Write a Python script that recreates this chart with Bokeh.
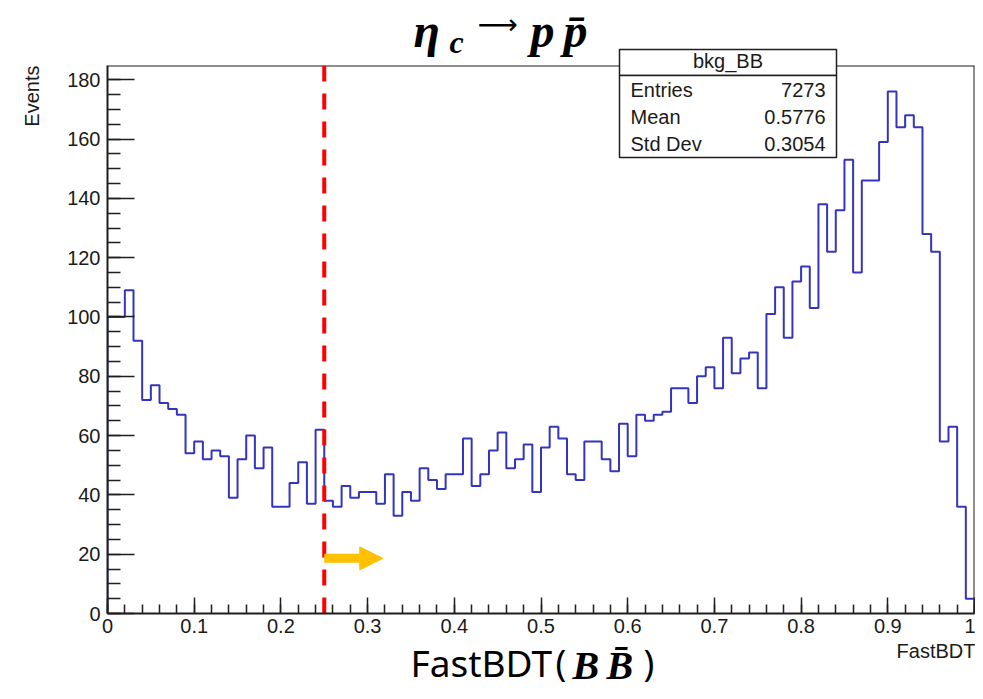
import numpy as np
from bokeh.plotting import figure
from bokeh.models import Range1d, FixedTicker, Span, Arrow, NormalHead
from bokeh.core.properties import value
from bokeh.embed import file_html
from bokeh.resources import INLINE

# ---------------- data ----------------
counts = [100, 100, 109, 92, 72, 77, 71, 69, 67, 54,
          58, 52, 55, 53, 39, 52, 60, 49, 56, 36,
          36, 44, 51, 37, 62, 38, 36, 43, 39, 41,
          41, 37, 47, 33, 41, 38, 49, 45, 42, 47,
          47, 59, 43, 47, 55, 61, 49, 52, 57, 41,
          56, 63, 59, 47, 45, 58, 58, 52, 48, 64,
          53, 67, 65, 67, 68, 76, 76, 71, 80, 83,
          76, 93, 81, 86, 88, 76, 101, 110, 93, 112,
          117, 103, 138, 122, 136, 153, 115, 146, 146, 159,
          176, 164, 168, 164, 128, 122, 58, 63, 36, 5]
x_low, x_high = 0.0, 1.0
y_top = 184.8
x_ticks = [0, 0.1, 0.2, 0.3, 0.4, 0.5, 0.6, 0.7, 0.8, 0.9, 1]
x_tick_labels = ["0", "0.1", "0.2", "0.3", "0.4", "0.5", "0.6", "0.7", "0.8", "0.9", "1"]
y_ticks = [0, 20, 40, 60, 80, 100, 120, 140, 160, 180]
y_tick_labels = ["0", "20", "40", "60", "80", "100", "120", "140", "160", "180"]
stats_title = "bkg_BB"
stats_names = ["Entries", "Mean", "Std Dev"]
stats_values = ["7273", "0.5776", "0.3054"]
cut_value = 0.25
arrow_tip = 0.3175
arrow_level = 18.6

# ---------------- layout (reference-image pixels) ----------------
W, H = 975, 691
FL, FT = 107, 65          # frame left / top
FR, FB = 974, 613         # frame right / bottom
FW, FH = FR - FL, FB - FT


def X(ix):
    return x_low + (ix - FL) / FW * (x_high - x_low)


def Y(iy):
    return (FB - iy) / FH * y_top


p = figure(width=W, height=H, output_backend="svg", toolbar_location=None,
           x_range=Range1d(x_low, x_high), y_range=Range1d(0, y_top),
           background_fill_color="white", border_fill_color="white")
p.min_border = 0
p.min_border_left = FL
p.min_border_top = FT
p.min_border_right = W - FR
p.min_border_bottom = H - FB
p.outline_line_color = None
p.xgrid.visible = False
p.ygrid.visible = False

AX_COL = "#1e1e1e"
TICK_FONT = "Liberation Sans"

minor_x = [round(v, 2) for v in np.arange(0, 1.0001, 0.02)]
p.xaxis.ticker = FixedTicker(ticks=x_ticks, minor_ticks=minor_x)
p.xaxis.major_label_overrides = {t: l for t, l in zip(x_ticks, x_tick_labels)}
p.xaxis.major_tick_in = 16
p.xaxis.major_tick_out = 0
p.xaxis.minor_tick_in = 9
p.xaxis.minor_tick_out = 0
p.xaxis.major_label_standoff = 5
minor_y = list(range(0, 185, 5))
p.yaxis.ticker = FixedTicker(ticks=y_ticks, minor_ticks=minor_y)
p.yaxis.major_label_overrides = {t: l for t, l in zip(y_ticks, y_tick_labels)}
p.yaxis.major_tick_in = 27
p.yaxis.major_tick_out = 0
p.yaxis.minor_tick_in = 13
p.yaxis.minor_tick_out = 0
p.yaxis.major_label_standoff = 7

for ax in (p.xaxis, p.yaxis):
    ax.axis_line_color = AX_COL
    ax.axis_line_width = 2
    ax.major_tick_line_color = AX_COL
    ax.major_tick_line_width = 1.5
    ax.minor_tick_line_color = AX_COL
    ax.minor_tick_line_width = 1.5
    ax.major_label_text_font = TICK_FONT
    ax.major_label_text_font_size = "20px"
    ax.major_label_text_color = "#1a1a1a"

p.add_layout(Span(location=y_top, dimension="width", line_color=AX_COL,
                  line_width=2, level="underlay"))
p.add_layout(Span(location=x_high, dimension="height", line_color=AX_COL,
                  line_width=2, level="underlay"))

# ---------------- histogram ----------------
edges = np.linspace(x_low, x_high, len(counts) + 1)
xs = [x_low] + list(edges)
ys = [0] + counts + [0]
p.step(x=xs, y=ys, mode="after", line_color="#3434bc", line_width=2)

p.segment(x0=[cut_value], y0=[y_top], x1=[cut_value], y1=[0],
          line_color="#ff0000", line_width=4, line_dash="16 12")

p.add_layout(Arrow(end=NormalHead(size=23, fill_color="#ffc000",
                                  line_color="#ffc000", line_width=1),
                   x_start=cut_value, y_start=arrow_level,
                   x_end=arrow_tip, y_end=arrow_level,
                   line_color="#ffc000", line_width=9))

# ---------------- stats box (drawn above the frame, unclipped level) ----------------
p.quad(left=[X(619), X(619)], right=[X(836), X(836)],
       top=[Y(49), Y(75)], bottom=[Y(75), Y(157)],
       fill_color="white", line_color=AX_COL, line_width=1.5, level="annotation")


def txt(ix, iy, text, size, font=TICK_FONT, style="normal", align="left",
        baseline="alphabetic", angle=0.0, color="#1a1a1a"):
    if baseline == "alphabetic":
        iy = iy - (0.2 * size + 3.5)
    p.text(x=[X(ix)], y=[Y(iy)], text=[text], text_font=value(font),
           text_font_size=value(f"{size}px"), text_font_style=style,
           text_align=align, text_baseline=baseline, angle=angle,
           text_color=color, level="annotation")


txt(727.5, 68, stats_title, 20, align="center")
for i, (nm, vl) in enumerate(zip(stats_names, stats_values)):
    yb = 97 + i * 27
    txt(630, yb, nm, 20)
    txt(825, yb, vl, 20, align="right")

txt(31, 65, "Events", 20, align="right", baseline="middle", angle=np.pi / 2)
txt(975, 658, "FastBDT", 20, align="right")

SERIF = "Liberation Serif"
txt(413, 43, "η", 48, font=SERIF, style="bold italic", color="black")
txt(449, 51, "c", 32, font=SERIF, style="bold italic", color="black")
txt(477, 24, "\u27f6", 28, font="DejaVu Sans", baseline="middle", color="black")
txt(530, 43, "p", 48, font=SERIF, style="bold italic", color="black")
txt(563, 43, "p\u0304", 48, font=SERIF, style="bold italic", color="black")

txt(410, 673, "FastBDT", 37, font="Noto Sans", color="black")
txt(555, 673, "(", 36, font="Noto Sans", color="black")
txt(572, 676, "B", 40, font=SERIF, style="bold italic", color="black")
txt(606, 676, "B\u0304", 40, font=SERIF, style="bold italic", color="black")
txt(643, 673, ")", 36, font="Noto Sans", color="black")

open("out.html", "w").write(file_html(p, INLINE))
